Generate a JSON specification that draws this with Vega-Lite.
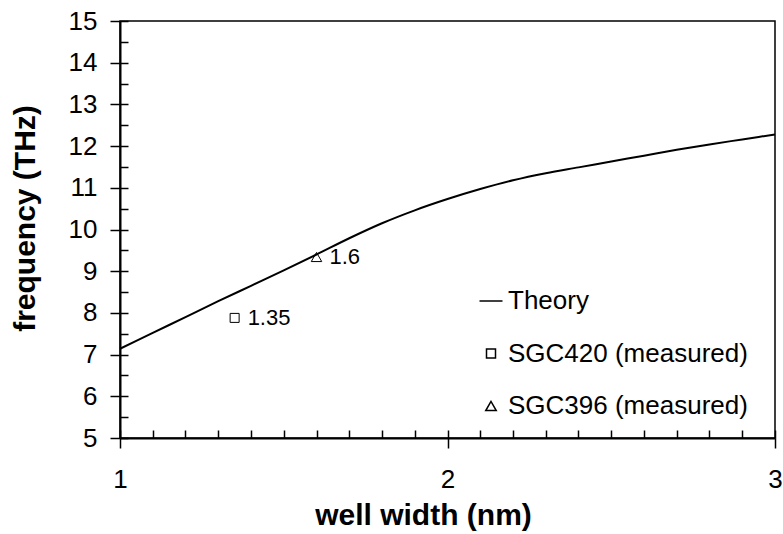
{
  "$schema": "https://vega.github.io/schema/vega-lite/v6.json",
  "width": 655,
  "height": 417,
  "autosize": {"type": "none"},
  "padding": {"left": 120, "top": 21, "right": 8, "bottom": 96},
  "background": "white",
  "config": {
    "font": "Liberation Sans",
    "view": {"stroke": "black", "strokeWidth": 1.5},
    "axis": {
      "grid": false,
      "domainColor": "black",
      "domainWidth": 2,
      "tickColor": "black",
      "tickWidth": 1.5,
      "labelColor": "black",
      "labelFont": "Liberation Sans",
      "labelFontSize": 26,
      "titleFont": "Liberation Sans",
      "titleFontSize": 30,
      "titleFontWeight": "bold",
      "titleColor": "black",
      "labelOverlap": false,
      "labelFlush": false
    }
  },
  "resolve": {"axis": {"x": "independent", "y": "independent"}},
  "datasets": {
    "theory": [
      {"w": 1.0, "f": 7.14},
      {"w": 1.1, "f": 7.52},
      {"w": 1.2, "f": 7.9},
      {"w": 1.3, "f": 8.28},
      {"w": 1.4, "f": 8.65},
      {"w": 1.5, "f": 9.02},
      {"w": 1.6, "f": 9.4},
      {"w": 1.7, "f": 9.79},
      {"w": 1.8, "f": 10.15},
      {"w": 1.9, "f": 10.46},
      {"w": 2.0, "f": 10.73},
      {"w": 2.1, "f": 10.97},
      {"w": 2.2, "f": 11.18},
      {"w": 2.3, "f": 11.35},
      {"w": 2.4, "f": 11.49},
      {"w": 2.5, "f": 11.63},
      {"w": 2.6, "f": 11.77},
      {"w": 2.7, "f": 11.91},
      {"w": 2.8, "f": 12.04},
      {"w": 2.9, "f": 12.16},
      {"w": 3.0, "f": 12.28}
    ],
    "measured": [
      {"w": 1.35, "f": 7.88, "series": "SGC420 (measured)", "label": "1.35"},
      {"w": 1.6, "f": 9.34, "series": "SGC396 (measured)", "label": "1.6"}
    ]
  },
  "layer": [
    {
      "data": {"name": "theory"},
      "mark": {"type": "line", "color": "black", "strokeWidth": 2, "interpolate": "monotone"},
      "encoding": {
        "x": {
          "field": "w",
          "type": "quantitative",
          "title": "well width (nm)",
          "scale": {"domain": [1, 3], "nice": false, "zero": false},
          "axis": {
            "orient": "bottom",
            "values": [1, 1.1, 1.2, 1.3, 1.4, 1.5, 1.6, 1.7, 1.8, 1.9, 2, 2.1, 2.2, 2.3, 2.4, 2.5, 2.6, 2.7, 2.8, 2.9, 3],
            "labelExpr": "datum.value % 1 === 0 ? format(datum.value, 'd') : ''",
            "ticks": false,
            "labelPadding": 28,
            "titlePadding": 8,
            "titleX": 303
          }
        },
        "y": {
          "field": "f",
          "type": "quantitative",
          "title": "frequency (THz)",
          "scale": {"domain": [5, 15], "nice": false, "zero": false},
          "axis": {
            "orient": "left",
            "values": [5, 6, 7, 8, 9, 10, 11, 12, 13, 14, 15],
            "format": "d",
            "tickSize": 10,
            "labelPadding": 13,
            "titlePadding": 28,
            "titleY": 197
          }
        }
      }
    },
    {
      "data": {"name": "measured"},
      "mark": {"type": "point", "filled": false, "color": "black", "strokeWidth": 1, "opacity": 1},
      "encoding": {
        "x": {
          "field": "w",
          "type": "quantitative",
          "axis": {
            "orient": "bottom",
            "values": [1, 1.1, 1.2, 1.3, 1.4, 1.5, 1.6, 1.7, 1.8, 1.9, 2, 2.1, 2.2, 2.3, 2.4, 2.5, 2.6, 2.7, 2.8, 2.9, 3],
            "tickSize": -8,
            "labels": false,
            "domain": false,
            "title": null
          }
        },
        "y": {
          "field": "f",
          "type": "quantitative",
          "axis": {
            "orient": "left",
            "values": [5, 5.5, 6, 6.5, 7, 7.5, 8, 8.5, 9, 9.5, 10, 10.5, 11, 11.5, 12, 12.5, 13, 13.5, 14, 14.5, 15],
            "tickSize": -8,
            "labels": false,
            "domain": false,
            "title": null
          }
        },
        "shape": {
          "field": "series",
          "type": "nominal",
          "scale": {
            "domain": ["Theory", "SGC420 (measured)", "SGC396 (measured)"],
            "range": ["stroke", "square", "triangle-up"]
          },
          "legend": {
            "title": null,
            "orient": "none",
            "legendX": 358,
            "legendY": 267,
            "padding": 0,
            "labelFont": "Liberation Sans",
            "labelFontSize": 26,
            "labelColor": "black",
            "labelLimit": 400,
            "labelOffset": 4,
            "rowPadding": 26.5,
            "symbolStrokeColor": "black",
            "symbolFillColor": "transparent",
            "symbolStrokeWidth": 1.5
          }
        },
        "size": {
          "field": "series",
          "type": "nominal",
          "scale": {
            "type": "ordinal",
            "domain": ["Theory", "SGC420 (measured)", "SGC396 (measured)"],
            "range": [529, 81, 110]
          },
          "legend": {
            "title": null,
            "orient": "none",
            "legendX": 358,
            "legendY": 267,
            "padding": 0,
            "labelFont": "Liberation Sans",
            "labelFontSize": 26,
            "labelColor": "black",
            "labelLimit": 400,
            "labelOffset": 4,
            "rowPadding": 26.5,
            "symbolStrokeColor": "black",
            "symbolFillColor": "transparent",
            "symbolStrokeWidth": 1.5
          }
        }
      }
    },
    {
      "data": {"name": "measured"},
      "mark": {"type": "text", "align": "left", "baseline": "middle", "dx": 13, "fontSize": 22, "font": "Liberation Sans", "color": "black"},
      "encoding": {
        "x": {
          "field": "w",
          "type": "quantitative",
          "axis": {
            "orient": "bottom",
            "values": [1, 2, 3],
            "tickSize": 10,
            "labels": false,
            "domain": false,
            "title": null
          }
        },
        "y": {"field": "f", "type": "quantitative", "axis": null},
        "text": {"field": "label"}
      }
    }
  ]
}
